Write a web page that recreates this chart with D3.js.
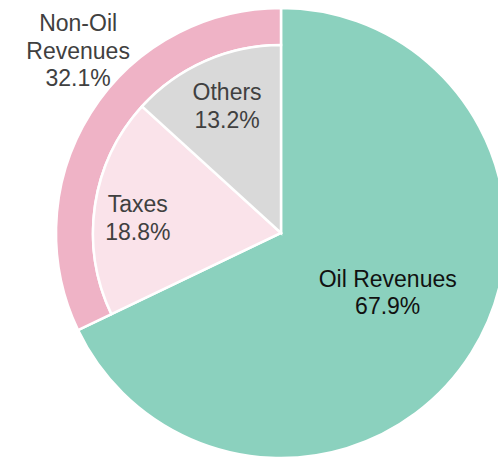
<!DOCTYPE html>
<head>
    <meta charset="utf-8">
    <title>Revenues</title>
    <style>
        body { margin: 0; background: #fff; }
        svg { display: block; }
        text { font-family: "Liberation Sans", Arial, sans-serif; font-size: 23px; }
    </style>
</head>
<body>
    <script src="https://d3js.org/d3.v7.min.js"></script>
    <script>
        // data
        var mainLabels = ["Oil Revenues", "Non-Oil Revenues"];
        var mainValues = [67.9, 32.1];
        var subLabels = ["Taxes", "Others"];
        var subValues = [18.8, 13.2];

        var width = 498, height = 458;
        var cx = 281, cy = 233;
        var outerR = 225, ringInner = 188;

        var mainColors = ["#8bd1be", "#efb3c6"];
        var subColors = ["#fae3ea", "#d9d9d9"];

        var svg = d3.select("body").append("svg")
            .attr("width", width)
            .attr("height", height);

        var g = svg.append("g")
            .attr("transform", "translate(" + cx + "," + cy + ")");

        var mainPie = d3.pie().sort(null).value(function (d) { return d; });
        var mainArcs = mainPie(mainValues);

        var fullArc = d3.arc().innerRadius(0).outerRadius(outerR);
        var ringArc = d3.arc().innerRadius(ringInner).outerRadius(outerR);

        // oil slice (full) and non-oil ring
        g.selectAll("path.main")
            .data(mainArcs)
            .enter().append("path")
            .attr("class", "main")
            .attr("d", function (d, i) { return i === 0 ? fullArc(d) : ringArc(d); })
            .attr("fill", function (d, i) { return mainColors[i]; })
            .attr("stroke", "#fff")
            .attr("stroke-width", 2.5);

        // breakdown of non-oil inside the ring
        var subPie = d3.pie().sort(null).value(function (d) { return d; })
            .startAngle(mainArcs[1].startAngle)
            .endAngle(mainArcs[1].endAngle);
        var subArcs = subPie(subValues);
        var subArc = d3.arc().innerRadius(0).outerRadius(ringInner);

        g.selectAll("path.sub")
            .data(subArcs)
            .enter().append("path")
            .attr("class", "sub")
            .attr("d", subArc)
            .attr("fill", function (d, i) { return subColors[i]; })
            .attr("stroke", "#fff")
            .attr("stroke-width", 2.5);

        // labels: angle (deg clockwise from top) and radius
        function polar(deg, r) {
            var a = deg * Math.PI / 180;
            return [Math.sin(a) * r, -Math.cos(a) * r];
        }
        var lineH = 27.5;
        function label(lines, deg, r, color) {
            var p = polar(deg, r);
            var n = lines.length;
            // vertical centre of the block sits on p
            var first = p[1] - ((n - 1) * lineH - 16.5) / 2;
            var t = g.append("text")
                .attr("text-anchor", "middle")
                .attr("fill", color);
            lines.forEach(function (s, i) {
                t.append("tspan")
                    .attr("x", p[0])
                    .attr("y", first + i * lineH)
                    .text(s);
            });
        }
        function pct(v) { return v.toFixed(1) + "%"; }

        label([mainLabels[0], pct(mainValues[0])], 119, 122, "#111");
        label(["Non-Oil", "Revenues", pct(mainValues[1])], 312, 273, "#404040");
        label([subLabels[0], pct(subValues[0])], 276, 144, "#404040");
        label([subLabels[1], pct(subValues[1])], 337, 138, "#404040");
    </script>
</body>
